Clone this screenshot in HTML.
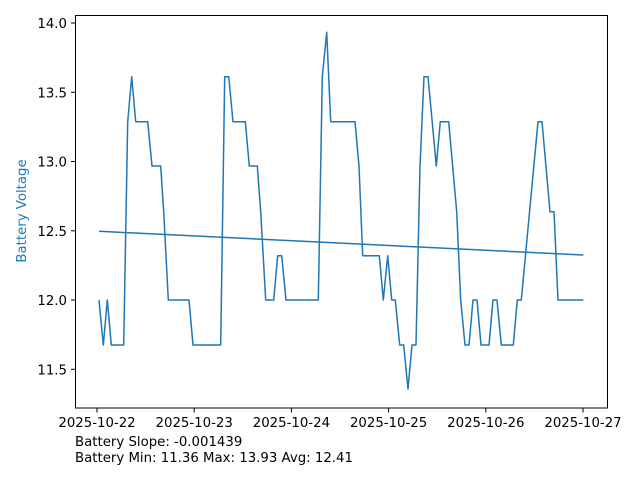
<!DOCTYPE html>
<html><head><meta charset="utf-8"><style>
body{margin:0;background:#fff;}
svg text{font-family:"DejaVu Sans",sans-serif;}
</style></head><body>
<svg width="640" height="480" viewBox="0 0 640 480" xmlns="http://www.w3.org/2000/svg">
<rect width="640" height="480" fill="#fff"/>
<polyline fill="none" stroke="#1f77b4" stroke-width="1.5" stroke-linejoin="round" points="99,300 103.3,345 107.3,300 111.3,345 123.7,345 127.7,121.7 131.7,76.7 135.7,121.7 147.7,121.7 152,166 160.7,166 163.7,211.7 168.3,300 189,300 193,345 220.7,345 224.7,76.7 228.7,76.7 233,121.7 245.3,121.7 249.3,166 257.3,166 260.7,211.7 265.7,300 273.7,300 277.7,255.7 281.7,255.7 286,300 318.3,300 322.3,76.7 326.7,32.3 330.7,121.7 355,121.7 359,166 362.7,255.7 379.3,255.7 383.3,300 387.7,255.7 391.7,300 395.3,300 399.7,345 403.7,345 408,389 412,345 416,345 420,166 424,76.7 428,76.7 436.3,166 440.3,121.7 448.7,121.7 456.7,211.7 460.7,300 465,345 469,345 473,300 477,300 481,345 489,345 493,300 497,300 501.3,345 513.3,345 517.3,300 521.3,300 538,121.7 542,121.7 550,211.7 554,211.7 558,300 583.3,300"/>
<line x1="99" y1="231.3" x2="583.3" y2="255" stroke="#1f77b4" stroke-width="1.5"/>
<rect x="75.5" y="15.5" width="532" height="392.5" fill="none" stroke="#000" stroke-width="1"/>
<g stroke="#000" stroke-width="1">
<line x1="75.5" y1="23" x2="71" y2="23"/><line x1="75.5" y1="92.3" x2="71" y2="92.3"/><line x1="75.5" y1="161.5" x2="71" y2="161.5"/><line x1="75.5" y1="230.8" x2="71" y2="230.8"/><line x1="75.5" y1="300" x2="71" y2="300"/><line x1="75.5" y1="369.3" x2="71" y2="369.3"/>
<line x1="97" y1="408" x2="97" y2="412.5"/><line x1="194.2" y1="408" x2="194.2" y2="412.5"/><line x1="291.4" y1="408" x2="291.4" y2="412.5"/><line x1="388.6" y1="408" x2="388.6" y2="412.5"/><line x1="485.8" y1="408" x2="485.8" y2="412.5"/><line x1="583" y1="408" x2="583" y2="412.5"/>
</g>
<g font-size="13.3" text-anchor="end" fill="#000">
<text x="67" y="28">14.0</text><text x="67" y="97.3">13.5</text><text x="67" y="166.5">13.0</text><text x="67" y="235.8">12.5</text><text x="67" y="305">12.0</text><text x="67" y="374.3">11.5</text>
</g>
<g font-size="13.3" text-anchor="middle" fill="#000">
<text x="97" y="427">2025-10-22</text><text x="194.2" y="427">2025-10-23</text><text x="291.4" y="427">2025-10-24</text><text x="388.6" y="427">2025-10-25</text><text x="485.8" y="427">2025-10-26</text><text x="583" y="427">2025-10-27</text>
</g>
<text x="26" y="211" font-size="13.3" fill="#1f77b4" text-anchor="middle" transform="rotate(-90 26 211)">Battery Voltage</text>
<text x="75" y="446" font-size="13.3" fill="#000">Battery Slope: -0.001439</text>
<text x="75" y="462" font-size="13.3" fill="#000">Battery Min: 11.36 Max: 13.93 Avg: 12.41</text>
</svg>
</body></html>
